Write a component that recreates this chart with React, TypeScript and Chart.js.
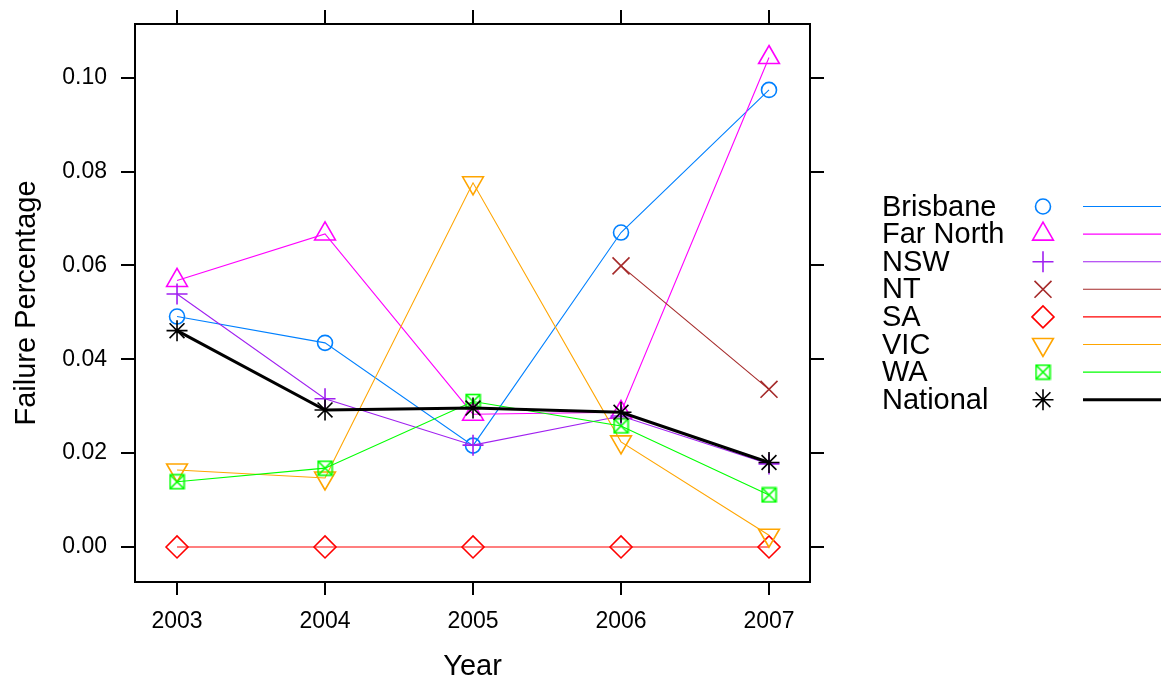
import React, { useEffect, useRef } from "react";
import { Chart, registerables } from "chart.js";
import { drawPoint } from "chart.js/helpers";

Chart.register(...registerables);

const years = [2003, 2004, 2005, 2006, 2007];
const yTicks = [0, 0.02, 0.04, 0.06, 0.08, 0.1];

const brisbane = [0.0491, 0.0435, 0.0216, 0.067, 0.0974];
const farNorth = [0.0568, 0.0667, 0.0283, 0.0287, 0.1043];
const nsw = [0.0539, 0.0316, 0.0217, 0.0279, 0.0177];
const nt = [null, null, null, 0.0599, 0.0336];
const sa = [0, 0, 0, 0, 0];
const vic = [0.0164, 0.0147, 0.0776, 0.0224, 0.0025];
const wa = [0.0139, 0.0168, 0.031, 0.0258, 0.0111];
const national = [0.0461, 0.0292, 0.0296, 0.0287, 0.018];

const seriesNames = ["Brisbane", "Far North", "NSW", "NT", "SA", "VIC", "WA", "National"];
const seriesValues = [brisbane, farNorth, nsw, nt, sa, vic, wa, national];
const seriesColors = ["#0080ff", "#ff00ff", "#a020f0", "#a52a2a", "#ff0000", "#ffa500", "#00ff00", "#000000"];

const X_MIN = 2002.716;
const X_MAX = 2007.277;
const Y_MIN = -0.00746;
const Y_MAX = 0.11144;

const FONT = "'Liberation Sans', Arial, Helvetica, sans-serif";

function makeBoxX(color: string): HTMLCanvasElement {
  const c = document.createElement("canvas");
  c.width = 17;
  c.height = 17;
  const ctx = c.getContext("2d")!;
  ctx.strokeStyle = color;
  ctx.lineWidth = 1.6;
  ctx.strokeRect(1.5, 1.5, 14, 14);
  ctx.beginPath();
  ctx.moveTo(1.5, 1.5);
  ctx.lineTo(15.5, 15.5);
  ctx.moveTo(15.5, 1.5);
  ctx.lineTo(1.5, 15.5);
  ctx.stroke();
  return c;
}

const legendPlugin = {
  id: "latticeLegend",
  afterDraw(chart: any) {
    const ctx = chart.ctx as CanvasRenderingContext2D;
    const datasets = chart.data.datasets;
    ctx.save();
    datasets.forEach((ds: any, i: number) => {
      const y = 206.5 + i * 27.6;
      ctx.fillStyle = "#000";
      ctx.font = `29px ${FONT}`;
      ctx.textAlign = "left";
      ctx.textBaseline = "middle";
      ctx.fillText(ds.label, 882, y + 1);
      ctx.strokeStyle = ds.pointBorderColor;
      ctx.fillStyle = "rgba(0,0,0,0)";
      ctx.lineWidth = ds.pointBorderWidth;
      drawPoint(ctx, {
        pointStyle: ds.pointStyle,
        rotation: ds.pointRotation || 0,
        radius: ds.pointRadius,
        borderWidth: ds.pointBorderWidth,
      } as any, 1043, y);
      ctx.beginPath();
      ctx.strokeStyle = ds.borderColor;
      ctx.lineWidth = ds.borderWidth;
      ctx.moveTo(1083, y);
      ctx.lineTo(1161, y);
      ctx.stroke();
    });
    ctx.restore();
  },
};

export default function App() {
  const ref = useRef<HTMLCanvasElement>(null);

  useEffect(() => {
    document.body.style.margin = "0";
    const styles: any[] = ["circle", "triangle", "cross", "crossRot", "rectRot", "triangle", makeBoxX("#00ff00"), "star"];
    const radii = [7.5, 12, 10.5, 12, 11, 12, 8.5, 10.5];
    const datasets = seriesNames.map((name, i) => ({
      label: name,
      data: years.map((yr, j) => ({ x: yr, y: seriesValues[i][j] })),
      borderColor: seriesColors[i],
      borderWidth: name === "National" ? 3 : 1.1,
      pointBorderColor: seriesColors[i],
      pointBackgroundColor: "rgba(0,0,0,0)",
      pointBorderWidth: 1.6,
      pointStyle: styles[i],
      pointRadius: radii[i],
      pointRotation: name === "VIC" ? 180 : 0,
      tension: 0,
      spanGaps: false,
      fill: false,
      order: seriesNames.length - i,
    }));

    const setXTicks = (s: any) => {
      s.ticks = years.map((v) => ({ value: v }));
    };
    const setYTicks = (s: any) => {
      s.ticks = yTicks.map((v) => ({ value: v }));
    };
    const noPad = (s: any) => {
      s.paddingTop = 0;
      s.paddingBottom = 0;
      s.paddingLeft = 0;
      s.paddingRight = 0;
    };
    const gridOpts = (len: number) => ({
      drawOnChartArea: false,
      drawTicks: true,
      tickLength: len,
      color: "#000",
      lineWidth: 2,
    });
    const borderOpts = { display: true, color: "#000", width: 2 };

    const chart = new Chart(ref.current!, {
      type: "line",
      data: { datasets },
      plugins: [legendPlugin],
      options: {
        animation: false,
        responsive: false,
        events: [],
        layout: { padding: { left: 0, right: 336, top: 10, bottom: 0 } },
        plugins: { legend: { display: false }, tooltip: { enabled: false } },
        font: { family: FONT },
        scales: {
          x: {
            type: "linear",
            position: "bottom",
            min: X_MIN,
            max: X_MAX,
            afterBuildTicks: setXTicks,
            afterFit: (s: any) => {
              noPad(s);
              s.height = 93;
            },
            ticks: {
              color: "#000",
              font: { size: 23, family: FONT },
              padding: 13,
              maxRotation: 0,
              callback: (v: any) => String(v),
            },
            grid: gridOpts(13),
            border: borderOpts,
            title: {
              display: true,
              text: "Year",
              color: "#000",
              font: { size: 29, family: FONT, lineHeight: 1 },
              padding: { top: 0, bottom: -6.5 },
            },
          },
          x2: {
            type: "linear",
            position: "top",
            min: X_MIN,
            max: X_MAX,
            afterBuildTicks: setXTicks,
            afterFit: (s: any) => {
              noPad(s);
              s.height = 14;
            },
            ticks: { display: false },
            grid: gridOpts(14),
            border: borderOpts,
          },
          y: {
            type: "linear",
            position: "left",
            min: Y_MIN,
            max: Y_MAX,
            afterBuildTicks: setYTicks,
            afterFit: (s: any) => {
              noPad(s);
              s.width = 135;
            },
            ticks: {
              color: "#000",
              font: { size: 23, family: FONT },
              padding: 14,
              callback: (v: any) => Number(v).toFixed(2),
            },
            grid: gridOpts(14),
            border: borderOpts,
            title: {
              display: true,
              text: "Failure Percentage",
              color: "#000",
              font: { size: 29, family: FONT, lineHeight: 1 },
              padding: { top: 12, bottom: 0 },
            },
          },
          y2: {
            type: "linear",
            position: "right",
            min: Y_MIN,
            max: Y_MAX,
            afterBuildTicks: setYTicks,
            afterFit: (s: any) => {
              noPad(s);
              s.width = 15;
            },
            ticks: { display: false },
            grid: gridOpts(14),
            border: borderOpts,
          },
        },
      } as any,
    });
    return () => chart.destroy();
  }, []);

  return (
    <div style={{ position: "absolute", left: 0, top: 0, width: 1161, height: 675, background: "#fff" }}>
      <canvas ref={ref} width={1161} height={675} style={{ display: "block" }} />
    </div>
  );
}
